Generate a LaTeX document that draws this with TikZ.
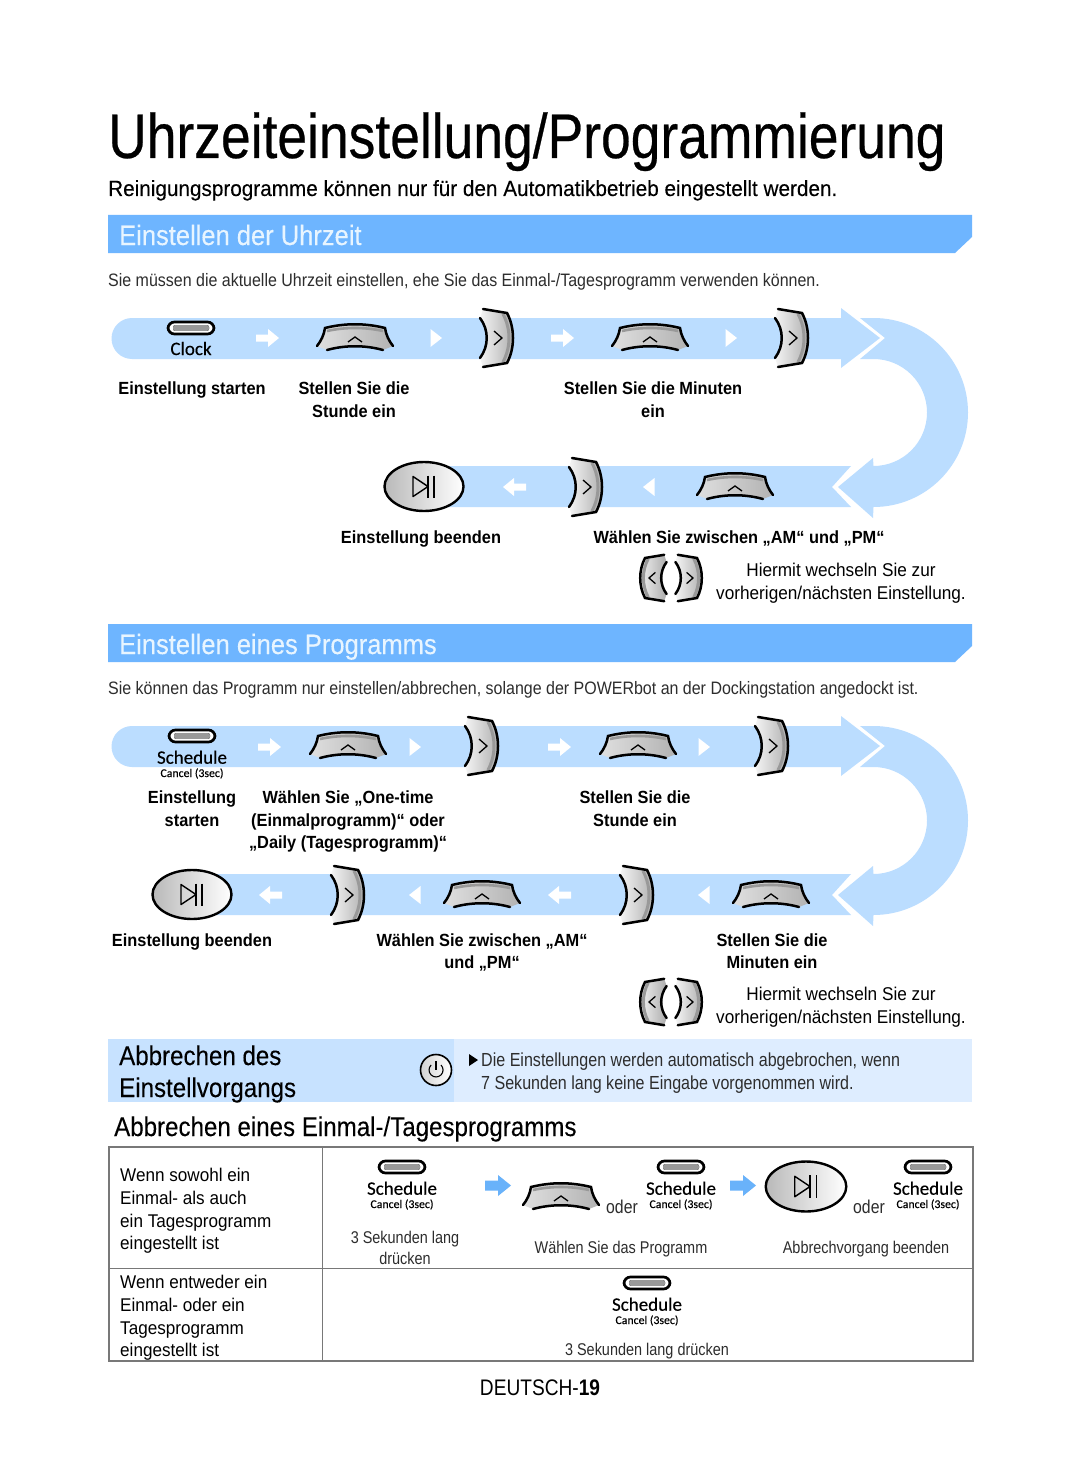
\documentclass[tikz,border=0pt]{standalone}
\usepackage{fontspec}
\usetikzlibrary{shapes.geometric}
\setmainfont[FakeStretch=0.93]{Liberation Sans}
\newfontfamily\titlefont[FakeStretch=0.848,FakeBold=0.4]{Liberation Sans}
\newfontfamily\subfont[FakeStretch=0.942,FakeBold=0.2]{Liberation Sans}
\newfontfamily\hdrfont[FakeStretch=0.911,FakeBold=0.2]{Liberation Sans}
\newfontfamily\headfont[FakeStretch=0.893,FakeBold=0.15]{Liberation Sans}
\newfontfamily\introfont[FakeStretch=0.888]{Liberation Sans}
\newfontfamily\thinfont[FakeStretch=0.85]{Liberation Sans}
\newfontfamily\keyfont[FakeBold=0.3]{Carlito}
\definecolor{bandblue}{RGB}{187,221,255}
\definecolor{headblue}{RGB}{110,181,255}
\definecolor{headtext}{RGB}{232,245,255}
\definecolor{arrowblue}{RGB}{105,178,250}
\definecolor{canceldark}{RGB}{199,226,255}
\definecolor{cancellight}{RGB}{222,237,255}
\definecolor{rulegray}{RGB}{120,120,120}
\definecolor{lighttext}{RGB}{45,45,45}
% flow band with its turn at the right, #1 top edge, #2 left end of the lower run
\newcommand{\flowloop}[2]{
  \begin{scope}[shift={(0,#1)}]
    \fill[bandblue] (132,0) -- (841,0) -- (841,-10) -- (880,20) -- (841,50) -- (841,41) -- (132,41)
      arc[start angle=90,end angle=270,radius=20.5] -- cycle;
    \fill[bandblue] (860,0) -- (873.5,0) arc[start angle=-90,end angle=90,radius=94.5]
      -- (873,200) -- (838,169) -- (873,140) -- (873.5,148) arc[start angle=90,end angle=-90,radius=53.5]
      -- (860,41) -- (885,20) -- cycle;
    \fill[bandblue] (#2,148) -- (851,148) -- (832,169) -- (851,189) -- (#2,189) -- cycle;
  \end{scope}
}
\tikzset{
  every node/.style={inner sep=0pt},
  lbl/.style={font=\fontsize{17.6}{22.6}\selectfont\bfseries,align=center},
  note/.style={font=\fontsize{18.5}{23}\selectfont,align=center},
  intro/.style={font=\introfont\fontsize{18}{22}\selectfont,text=lighttext,anchor=base west},
  hdr/.style={font=\hdrfont\fontsize{28}{32}\selectfont,text=headtext,anchor=base west},
  big/.style={font=\headfont\fontsize{27}{32}\selectfont,anchor=base west},
  cell/.style={font=\fontsize{18.4}{22.7}\selectfont,align=left,anchor=west},
  thin/.style={font=\thinfont\fontsize{17}{22}\selectfont,text=lighttext,align=center},
  keyline/.style={line width=2.5pt,black,line cap=round},
  upkey/.pic={
    \path[left color=gray!25,middle color=white!92!gray,right color=gray!60]
      (-30,-10) .. controls (-10,-15) and (10,-15) .. (30,-10) .. controls (31,-3) and (34,3) .. (38,8)
      -- (28,12) .. controls (10,7) and (-10,7) .. (-28,12) -- (-38,8) .. controls (-34,3) and (-31,-3) .. (-30,-10) -- cycle;
    \draw[gray!80,line width=2.6pt] (-28,-7) .. controls (-10,-11) and (10,-11) .. (28,-7);
    \draw[keyline] (-38,8) .. controls (-34,3) and (-31,-3) .. (-30,-10) .. controls (-10,-15) and (10,-15) .. (30,-10) .. controls (31,-3) and (34,3) .. (38,8);
    \draw[keyline] (-28,12) .. controls (-10,7) and (10,7) .. (28,12);
    \draw[black,line width=1.3pt] (-7,4) -- (0,-1) -- (7,4);
  },
  rightkey/.pic={
    \path[left color=white!92!gray,right color=gray!65]
      (-14,-29) -- (10,-25) .. controls (18,-10) and (18,10) .. (10,25) -- (-14,29) -- (-17,20)
      .. controls (-8,8) and (-8,-8) .. (-17,-20) -- cycle;
    \draw[gray!80,line width=3pt] (6,-24) .. controls (14,-9) and (14,9) .. (6,24);
    \draw[keyline] (-14,-29) -- (10,-25) .. controls (18,-10) and (18,10) .. (10,25) -- (-14,29);
    \draw[keyline] (-17,-20) .. controls (-8,-8) and (-8,8) .. (-17,20);
    \draw[black,line width=1.3pt] (-3,-7) -- (5,0) -- (-3,7);
  },
  playkey/.pic={
    \draw[line width=2.4pt,left color=gray!55,right color=white] (0,0) ellipse[x radius=39.5,y radius=24.5];
    \draw[black,line width=1.4pt,line join=round] (-11,-10) -- (4,0) -- (-11,10) -- cycle;
    \draw[black,line width=1.4pt] (4,-11) -- (4,11) (10,-11) -- (10,11);
  },
  slotkey/.pic={
    \draw[line width=2.7pt,fill=white,rounded corners=6.5pt] (-23,-6) rectangle (23,6);
    \fill[left color=gray!80,middle color=gray!50,right color=gray!80,rounded corners=2pt] (-18,-2.8) rectangle (18,2.8);
  },
  schedkey/.pic={
    \pic at (0,0) {slotkey};
    \node[font=\keyfont\fontsize{19}{22}\selectfont] (-sched) at (0,21.2) {Schedule};
    \node[font=\keyfont\fontsize{11.8}{14}\selectfont] (-cancel) at (0,37.5) {Cancel (3sec)};
  },
  whiteblock/.pic={
    \fill[white] (-11,-3.5) -- (1,-3.5) -- (1,-9) -- (12,0) -- (1,9) -- (1,3.5) -- (-11,3.5) -- cycle;
  },
  whitetri/.pic={
    \fill[white] (-5.5,-9) -- (6,0) -- (-5.5,9) -- cycle;
  },
  blueblock/.pic={
    \fill[arrowblue] (-13,-5) -- (0,-5) -- (0,-10.5) -- (13,0) -- (0,10.5) -- (0,5) -- (-13,5) -- cycle;
  },
}
\begin{document}
\begin{tikzpicture}[x=1pt,y=-1pt]
  \useasboundingbox[fill=white] (0,0) rectangle (1080,1479);

  \node[font=\titlefont\fontsize{63}{70}\selectfont,anchor=base west] (title) at (108,158) {Uhrzeiteinstellung/Programmierung};
  \node[font=\subfont\fontsize{22}{26}\selectfont,anchor=base west] (subtitle) at (108,196) {Reinigungsprogramme können nur für den Automatikbetrieb eingestellt werden.};

  % section bars
  \fill[headblue] (108,215) -- (972,215) -- (972,237) -- (955,253) -- (108,253) -- cycle;
  \node[hdr] (clockhead) at (119,245) {Einstellen der Uhrzeit};
  \node[intro] (clockintro) at (108,286) {Sie müssen die aktuelle Uhrzeit einstellen, ehe Sie das Einmal-/Tagesprogramm verwenden können.};
  \fill[headblue] (108,624) -- (972,624) -- (972,646) -- (955,662) -- (108,662) -- cycle;
  \node[hdr] (proghead) at (119,654) {Einstellen eines Programms};
  \node[intro] (progintro) at (108,694) {Sie können das Programm nur einstellen/abbrechen, solange der POWERbot an der Dockingstation angedockt ist.};

  % clock flow
  \flowloop{318}{424}
  \pic at (191,328) {slotkey};
  \node[font=\keyfont\fontsize{19}{22}\selectfont] (clocktxt) at (191,348.5) {Clock};
  \pic at (267,338) {whiteblock};
  \pic at (355,338) {upkey};
  \pic at (436,338) {whitetri};
  \pic at (497,338) {rightkey};
  \pic at (562,338) {whiteblock};
  \pic at (650,338) {upkey};
  \pic at (731,338) {whitetri};
  \pic at (792,338) {rightkey};
  \pic at (735,487) {upkey};
  \pic[xscale=-1] at (649,487) {whitetri};
  \pic at (586,487) {rightkey};
  \pic[xscale=-1] at (515,487) {whiteblock};
  \pic at (424,486.5) {playkey};
  \node[lbl] (lb1) at (192,390) {Einstellung starten};
  \node[lbl] (lb2) at (354,400) {Stellen Sie die\\Stunde ein};
  \node[lbl] (lb3) at (653,400) {Stellen Sie die Minuten\\ein};
  \node[lbl] (lb4) at (421,539) {Einstellung beenden};
  \node[lbl] (lb5) at (739,538.5) {Wählen Sie zwischen „AM“ und „PM“};
  \pic[xscale=-.8,yscale=.8] at (653,578) {rightkey};
  \pic[scale=.8] at (689,578) {rightkey};
  \node[note] (hint1) at (841,583) {Hiermit wechseln Sie zur\\vorherigen/nächsten Einstellung.};

  % program flow
  \flowloop{726}{192}
  \pic (sa) at (192,736) {schedkey};
  \pic at (269,747) {whiteblock};
  \pic at (348,746) {upkey};
  \pic at (415,747) {whitetri};
  \pic at (482,746) {rightkey};
  \pic at (559,747) {whiteblock};
  \pic at (638,746) {upkey};
  \pic at (704,747) {whitetri};
  \pic at (772,746) {rightkey};
  \pic at (771,895) {upkey};
  \pic[xscale=-1] at (704,895) {whitetri};
  \pic at (637,895) {rightkey};
  \pic[xscale=-1] at (560,895) {whiteblock};
  \pic at (482,895) {upkey};
  \pic[xscale=-1] at (415,895) {whitetri};
  \pic at (348,895) {rightkey};
  \pic[xscale=-1] at (271,895) {whiteblock};
  \pic at (192,894.5) {playkey};
  \node[lbl] (lc1) at (192,809) {Einstellung\\starten};
  \node[lbl] (lc2) at (348,821.5) {Wählen Sie „One-time\\(Einmalprogramm)“ oder\\„Daily (Tagesprogramm)“};
  \node[lbl] (lc3) at (635,809) {Stellen Sie die\\Stunde ein};
  \node[lbl] (lc4) at (192,942) {Einstellung beenden};
  \node[lbl] (lc5) at (482,952.5) {Wählen Sie zwischen „AM“\\und „PM“};
  \node[lbl] (lc6) at (772,951) {Stellen Sie die\\Minuten ein};
  \pic[xscale=-.8,yscale=.8] at (653,1002) {rightkey};
  \pic[scale=.8] at (689,1002) {rightkey};
  \node[note] (hint2) at (841,1007) {Hiermit wechseln Sie zur\\vorherigen/nächsten Einstellung.};

  % cancel strip
  \fill[canceldark] (108,1039) rectangle (454,1102);
  \fill[cancellight] (454,1039) rectangle (972,1102);
  \node[big] (ca1) at (119,1065) {Abbrechen des};
  \node[big] (ca2) at (119,1097) {Einstellvorgangs};
  \draw[line width=1.6pt,left color=gray!35,right color=white] (436,1070) circle[radius=15.5];
  \draw[line width=1.1pt] (441,1065) arc[start angle=-45,end angle=225,radius=7];
  \draw[line width=1.1pt] (436,1061) -- (436,1070);
  \fill (469,1054) -- (478,1060) -- (469,1066) -- cycle;
  \node[intro,font=\thinfont\fontsize{18.9}{22}\selectfont] (cb1) at (481,1066) {Die Einstellungen werden automatisch abgebrochen, wenn};
  \node[intro,font=\thinfont\fontsize{18.9}{22}\selectfont] (cb2) at (481,1089) {7 Sekunden lang keine Eingabe vorgenommen wird.};
  \node[big] (tabhead) at (114,1136) {Abbrechen eines Einmal-/Tagesprogramms};

  % table
  \draw[rulegray,line width=.9pt] (109,1268) -- (973,1268) (322,1147) -- (322,1361);
  \draw[rulegray,line width=1.8pt] (109,1147) rectangle (973,1361);
  \node[cell] (ra) at (120,1211) {Wenn sowohl ein\\Einmal- als auch\\ein Tagesprogramm\\eingestellt ist};
  \node[cell] (rb) at (120,1318) {Wenn entweder ein\\Einmal- oder ein\\Tagesprogramm\\eingestellt ist};
  \pic (ka) at (402,1167) {schedkey};
  \pic at (498,1185.5) {blueblock};
  \pic at (561,1197) {upkey};
  \node[thin,font=\thinfont\fontsize{18.6}{22}\selectfont] (ora) at (622,1207) {oder};
  \pic (kb) at (681,1167) {schedkey};
  \pic at (743,1185.5) {blueblock};
  \pic[scale=1.02] at (806,1186.5) {playkey};
  \node[thin,font=\thinfont\fontsize{18.6}{22}\selectfont] (orb) at (869,1207) {oder};
  \pic (kc) at (928,1167) {schedkey};
  \pic (kd) at (647,1283) {schedkey};
  \node[thin,font=\thinfont\fontsize{17}{21.5}\selectfont] (ta) at (405,1248) {3 Sekunden lang\\drücken};
  \node[thin] (tb) at (621,1249) {Wählen Sie das Programm};
  \node[thin] (tc) at (866,1249) {Abbrechvorgang beenden};
  \node[thin] (td) at (647,1351) {3 Sekunden lang drücken};

  \node[font=\thinfont\fontsize{22.5}{26}\selectfont] (pageno) at (540,1388) {DEUTSCH-\textbf{19}};
\end{tikzpicture}
\end{document}
